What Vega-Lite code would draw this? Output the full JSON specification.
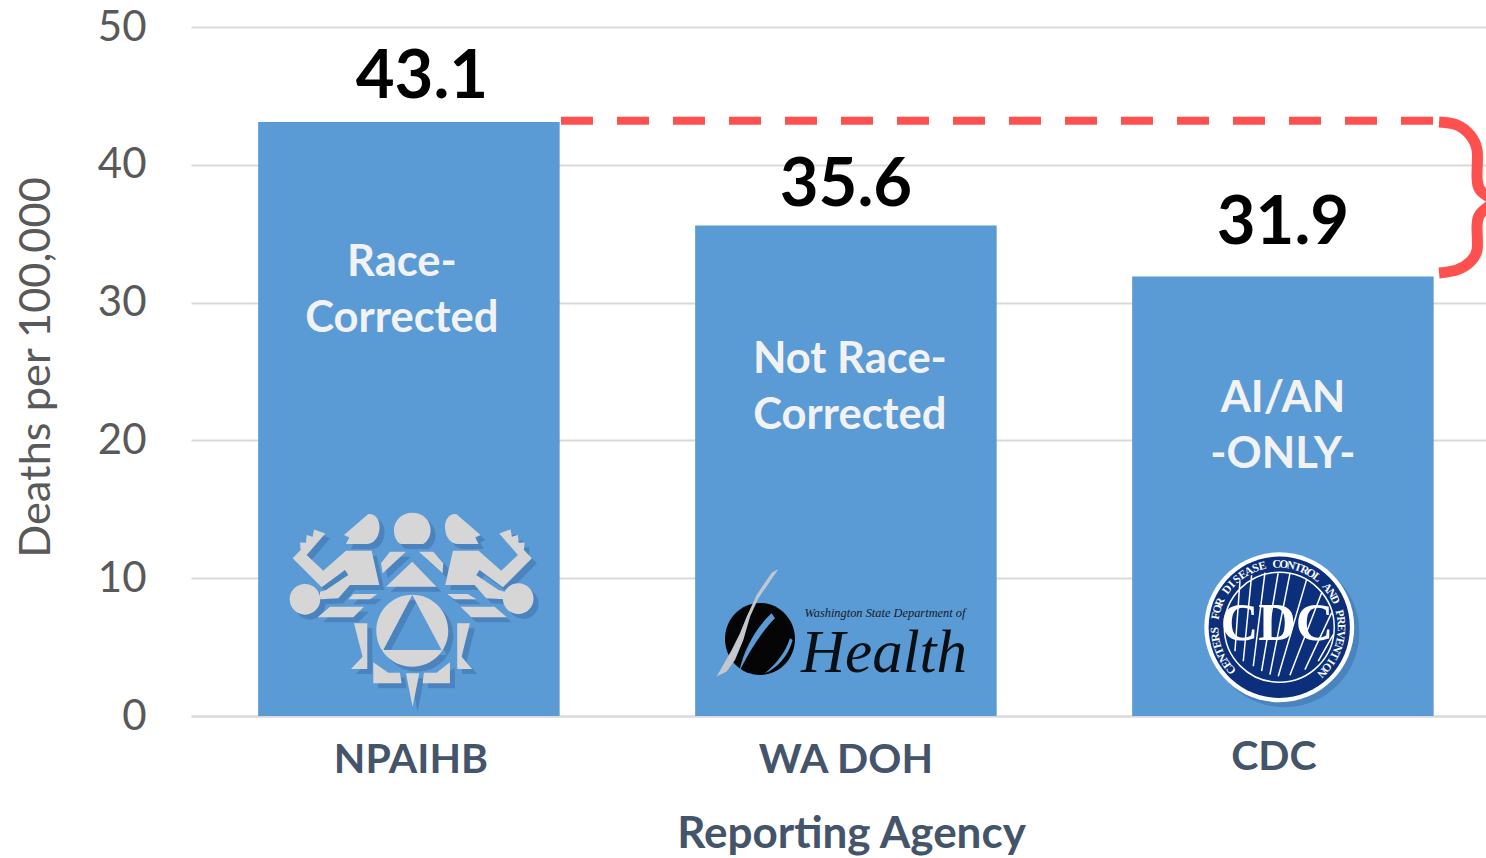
{
"$schema":"https://vega.github.io/schema/vega-lite/v6.json",
"width":1295,"height":689,
"autosize":"none",
"padding":{"left":191,"top":27,"right":0,"bottom":142},
"background":"white",
"config":{"view":{"stroke":null}},
"datasets":{
"bars":[
{"agency":"NPAIHB","deaths":43.1,"label":"43.1"},
{"agency":"WA DOH","deaths":35.6,"label":"35.6"},
{"agency":"CDC","deaths":31.9,"label":"31.9"}],
"notes":[
{"agency":"NPAIHB","at":32.89,"note":"Race-\nCorrected"},
{"agency":"WA DOH","at":25.84,"note":"Not Race-\nCorrected"},
{"agency":"CDC","at":22.99,"note":"AI/AN\n-ONLY-"}],
"gap":[{"xu":0.8467,"y":43.19},{"xu":2.8444,"y":43.19}],
"brace":[
{"part":"top","i":1,"xu":2.856,"y":43.11},{"part":"top","i":2,"xu":2.897,"y":42.89},{"part":"top","i":3,"xu":2.927,"y":42.16},{"part":"top","i":4,"xu":2.943,"y":41.07},{"part":"top","i":5,"xu":2.943,"y":39.04},{"part":"top","i":6,"xu":2.95,"y":38.17},{"part":"top","i":7,"xu":2.977,"y":37.52},
{"part":"bottom","i":1,"xu":2.977,"y":37.15},{"part":"bottom","i":2,"xu":2.95,"y":36.43},{"part":"bottom","i":3,"xu":2.943,"y":35.63},{"part":"bottom","i":4,"xu":2.943,"y":33.82},{"part":"bottom","i":5,"xu":2.927,"y":32.95},{"part":"bottom","i":6,"xu":2.897,"y":32.37},{"part":"bottom","i":7,"xu":2.856,"y":32.15}],
"npaihbLogo":[{"part":"shadow","xu":0.1922,"y":15.31},{"part":"logo","xu":0.1808,"y":15.67}],
"healthLogo":[{"xu":1.1648,"y":11.32}],
"healthTop":[{"xu":1.4039,"y":7.18,"t":"Washington State Department of"}],
"healthWord":[{"xu":1.3959,"y":3.16,"t":"Health"}],
"cdcLogo":[{"part":"shadow","xu":2.2977,"y":12.56},{"part":"logo","xu":2.286,"y":12.92}],
"cdcAnchor":[{"xu":2.286,"y":12.92}],
"cdcWord":[{"xu":2.4851,"y":5.5,"t":"CDC"}],
"cdcRing":[
{"c":"C","deg":-132},{"c":"E","deg":-125.5},{"c":"N","deg":-118.9},{"c":"T","deg":-112.4},{"c":"E","deg":-105.8},{"c":"R","deg":-99.3},{"c":"S","deg":-92.8},
{"c":"F","deg":-79.7},{"c":"O","deg":-73.1},{"c":"R","deg":-66.6},
{"c":"D","deg":-53.5},{"c":"I","deg":-47},{"c":"S","deg":-40.5},{"c":"E","deg":-33.9},{"c":"A","deg":-27.4},{"c":"S","deg":-20.8},{"c":"E","deg":-14.3},
{"c":"C","deg":-1.2},{"c":"O","deg":5.3},{"c":"N","deg":11.9},{"c":"T","deg":18.4},{"c":"R","deg":25},{"c":"O","deg":31.5},{"c":"L","deg":38},
{"c":"A","deg":51.1},{"c":"N","deg":57.7},{"c":"D","deg":64.2},
{"c":"P","deg":77.3},{"c":"R","deg":83.8},{"c":"E","deg":90.4},{"c":"V","deg":96.9},{"c":"E","deg":103.4},{"c":"N","deg":110},{"c":"T","deg":116.5},{"c":"I","deg":123.1},{"c":"O","deg":129.6},{"c":"N","deg":136.1}]
},
"resolve":{"scale":{"x":"independent"},"axis":{"x":"independent"}},
"layer":[
{"layer":[
{"data":{"name":"bars"},
 "mark":{"type":"bar","color":"#5b9bd5"},
 "encoding":{
  "x":{"field":"agency","type":"nominal","sort":null,
   "scale":{"domain":["NPAIHB","WA DOH","CDC"],"paddingInner":0.31,"paddingOuter":0.1367,"align":0.562},
   "axis":{"title":"Reporting Agency","titleFont":"Lato","titleFontSize":44,"titleFontWeight":"bold","titleColor":"#44546a","titleX":660,"titleY":131,"titleBaseline":"alphabetic",
    "labelFont":"Lato","labelFontSize":41,"labelFontWeight":"bold","labelColor":"#44546a","labelAngle":0,"ticks":false,"domainColor":"#d9d9d9","domainWidth":2,
    "labelPadding":{"condition":{"test":"datum.value=='CDC'","value":21},"value":24},
    "labelOffset":{"condition":[{"test":"datum.value=='CDC'","value":-9},{"test":"datum.value=='NPAIHB'","value":2}],"value":0}}},
  "y":{"field":"deaths","type":"quantitative","scale":{"domain":[0,50],"nice":false},
   "axis":{"title":"Deaths per 100,000","values":[0,10,20,30,40,50],"titleFont":"Lato","titleFontSize":43.4,"titleFontWeight":"normal","titleColor":"#595959","titleX":-133,"titleY":340,
    "labelFont":"Lato","labelFontSize":42,"labelColor":"#595959","labelPadding":45,"ticks":false,"domain":false,"grid":true,"gridColor":"#d9d9d9","gridWidth":2}}}},
{"data":{"name":"bars"},
 "mark":{"type":"text","font":"Lato","fontWeight":"bold","fontSize":67,"color":"black","baseline":"alphabetic","dy":{"expr":"datum.agency=='NPAIHB'?-24:(datum.agency=='CDC'?-32:-19)"},"dx":{"expr":"datum.agency=='NPAIHB'?13:0"}},
 "encoding":{"x":{"field":"agency","type":"nominal","sort":null},"y":{"field":"deaths","type":"quantitative"},"text":{"field":"label"}}},
{"data":{"name":"notes"},
 "mark":{"type":"text","font":"Lato","fontWeight":"bold","fontSize":43.5,"color":"#f2f2f2","baseline":"middle","lineHeight":56,"lineBreak":"\n","dx":{"expr":"datum.agency=='NPAIHB'?-7:(datum.agency=='WA DOH'?4:0)"}},
 "encoding":{"x":{"field":"agency","type":"nominal","sort":null},"y":{"field":"at","type":"quantitative"},"text":{"field":"note"}}}
]},
{"layer":[
{"data":{"name":"gap"},
 "mark":{"type":"line","color":"#ff5050","strokeWidth":8,"strokeDash":[32,24]},
 "encoding":{"x":{"field":"xu","type":"quantitative","scale":{"domain":[0,2.9634],"nice":false,"zero":false},"axis":null},"y":{"field":"y","type":"quantitative"}}},
{"data":{"name":"brace"},
 "mark":{"type":"line","color":"#ff5050","strokeWidth":11,"interpolate":"cardinal","clip":false},
 "encoding":{"x":{"field":"xu","type":"quantitative"},"y":{"field":"y","type":"quantitative"},"detail":{"field":"part"},"order":{"field":"i"}}},
{"data":{"name":"npaihbLogo"},
 "mark":{"type":"point","filled":true,"opacity":1,"size":0.444,"strokeWidth":0,
  "shape":"M222 105 L295 42 C320 40 332 65 328 90 C325 115 310 132 290 132 L228 132 L238 112 Z M427 38 C395 38 372 62 372 90 C372 115 385 132 395 132 L460 132 C472 125 482 110 482 90 C482 60 458 38 427 38 Z M632 105 L559 42 C534 40 522 65 526 90 C529 115 544 132 564 132 L626 132 L616 112 Z M68 175 L92 150 L90 127 L108 128 L110 105 L128 110 L132 88 L166 100 L110 165 L160 212 L228 152 L305 152 L328 255 L240 255 L205 295 L150 298 L150 275 L168 270 L235 225 L225 210 L155 262 Z M59 298 a46 46 0 1 0 92 0 a46 46 0 1 0 -92 0 Z M786 175 L762 150 L764 127 L746 128 L744 105 L726 110 L722 88 L688 100 L744 165 L694 212 L626 152 L549 152 L526 255 L614 255 L649 295 L704 298 L704 275 L686 270 L619 225 L629 210 L699 262 Z M699 296 a46 46 0 1 0 92 0 a46 46 0 1 0 -92 0 Z M250 282 L322 282 L300 298 L235 298 Z M180 320 L282 320 L250 352 L143 352 Z M532 282 L594 282 L619 298 L554 298 Z M572 320 L674 320 L711 352 L604 352 Z M427 185 L500 260 L348 260 Z M360 155 L408 155 L338 220 L333 190 Z M447 155 L490 155 L520 190 L518 220 Z M319 392 a108 108 0 1 1 216 0 a108 108 0 1 1 -216 0 Z M427 285 L340 450 L515 450 Z M252 370 L292 370 L292 507 L243 507 L278 470 Z M600 370 L562 370 L562 507 L607 507 L575 470 Z M310 487 L355 518 L390 518 L395 550 L310 550 Z M540 487 L500 518 L462 518 L458 550 L540 550 Z M408 520 L448 520 L428 620 Z"},
 "encoding":{"x":{"field":"xu","type":"quantitative"},"y":{"field":"y","type":"quantitative"},
  "fill":{"condition":{"test":"datum.part=='shadow'","value":"#4a83bd"},"value":"#d6d6d6"}}},
{"data":{"name":"healthLogo"},
 "mark":{"type":"point","filled":true,"opacity":1,"size":0.444,"strokeWidth":0,"color":"#050505","shape":"M75 237 a105 108 0 1 1 210 0 a105 108 0 1 1 -210 0 Z"},
 "encoding":{"x":{"field":"xu","type":"quantitative"},"y":{"field":"y","type":"quantitative"}}},
{"data":{"name":"healthLogo"},
 "mark":{"type":"point","filled":true,"opacity":1,"size":0.444,"strokeWidth":0,"color":"#5b9bd5","shape":"M215 160 C170 200 130 270 118 335 C150 270 190 210 225 175 Z M278 240 C265 290 230 325 195 340 C230 310 255 280 270 235 Z"},
 "encoding":{"x":{"field":"xu","type":"quantitative"},"y":{"field":"y","type":"quantitative"}}},
{"data":{"name":"healthLogo"},
 "mark":{"type":"point","filled":true,"opacity":1,"size":0.444,"strokeWidth":0,"color":"#c4c8cc","shape":"M235 28 L215 38 L170 105 L140 170 L120 220 L95 270 L50 350 L80 335 L105 300 L130 240 L150 170 L175 115 Z"},
 "encoding":{"x":{"field":"xu","type":"quantitative"},"y":{"field":"y","type":"quantitative"}}},
{"data":{"name":"healthTop"},
 "mark":{"type":"text","font":"Liberation Serif","fontStyle":"italic","fontSize":12.4,"color":"#14202c","align":"left","baseline":"alphabetic"},
 "encoding":{"x":{"field":"xu","type":"quantitative"},"y":{"field":"y","type":"quantitative"},"text":{"field":"t"}}},
{"data":{"name":"healthWord"},
 "mark":{"type":"text","font":"Liberation Serif","fontStyle":"italic","fontSize":61,"color":"#0a0f14","align":"left","baseline":"alphabetic"},
 "encoding":{"x":{"field":"xu","type":"quantitative"},"y":{"field":"y","type":"quantitative"},"text":{"field":"t"}}},
{"data":{"name":"cdcLogo"},
 "mark":{"type":"point","filled":true,"opacity":1,"size":0.444,"strokeWidth":0,"shape":"M43 268 a225 225 0 1 1 450 0 a225 225 0 1 1 -450 0 Z"},
 "encoding":{"x":{"field":"xu","type":"quantitative"},"y":{"field":"y","type":"quantitative"},
  "fill":{"condition":{"test":"datum.part=='shadow'","value":"#4a83bd"},"value":"#ffffff"}}},
{"data":{"name":"cdcAnchor"},
 "mark":{"type":"point","filled":true,"opacity":1,"size":0.444,"strokeWidth":0,"color":"#0b2f7a","shape":"M56 268 a212 212 0 1 1 424 0 a212 212 0 1 1 -424 0 Z"},
 "encoding":{"x":{"field":"xu","type":"quantitative"},"y":{"field":"y","type":"quantitative"}}},
{"data":{"name":"cdcAnchor"},
 "mark":{"type":"point","filled":false,"opacity":1,"size":0.444,"strokeWidth":1.5,"color":"#ffffff","shape":"M103 268 a165 165 0 1 1 330 0 a165 165 0 1 1 -330 0 Z M150 130 L135 340 M185 112 L160 370 M225 104 L190 385 M265 103 L215 400 M300 107 L240 410 M350 125 L265 415 M395 165 L300 412 M425 225 L345 395 M430 290 L385 370"},
 "encoding":{"x":{"field":"xu","type":"quantitative"},"y":{"field":"y","type":"quantitative"}}},
{"data":{"name":"cdcWord"},
 "mark":{"type":"text","font":"Liberation Serif","fontWeight":"bold","fontSize":52,"color":"#ffffff","baseline":"alphabetic"},
 "encoding":{"x":{"field":"xu","type":"quantitative"},"y":{"field":"y","type":"quantitative"},"text":{"field":"t"}}},
{"data":{"name":"cdcRing"},
 "mark":{"type":"text","font":"Liberation Serif","fontWeight":"bold","fontSize":11.5,"color":"#ffffff","baseline":"middle","align":"center","radius":62.7},
 "encoding":{"x":{"datum":2.4874,"type":"quantitative"},"y":{"datum":6.44,"type":"quantitative"},
  "theta":{"field":"deg","type":"quantitative","scale":{"domain":[-180,180],"range":[-3.14159,3.14159]}},
  "angle":{"field":"deg","type":"quantitative","scale":null},
  "text":{"field":"c"}}}
]}
]
}
